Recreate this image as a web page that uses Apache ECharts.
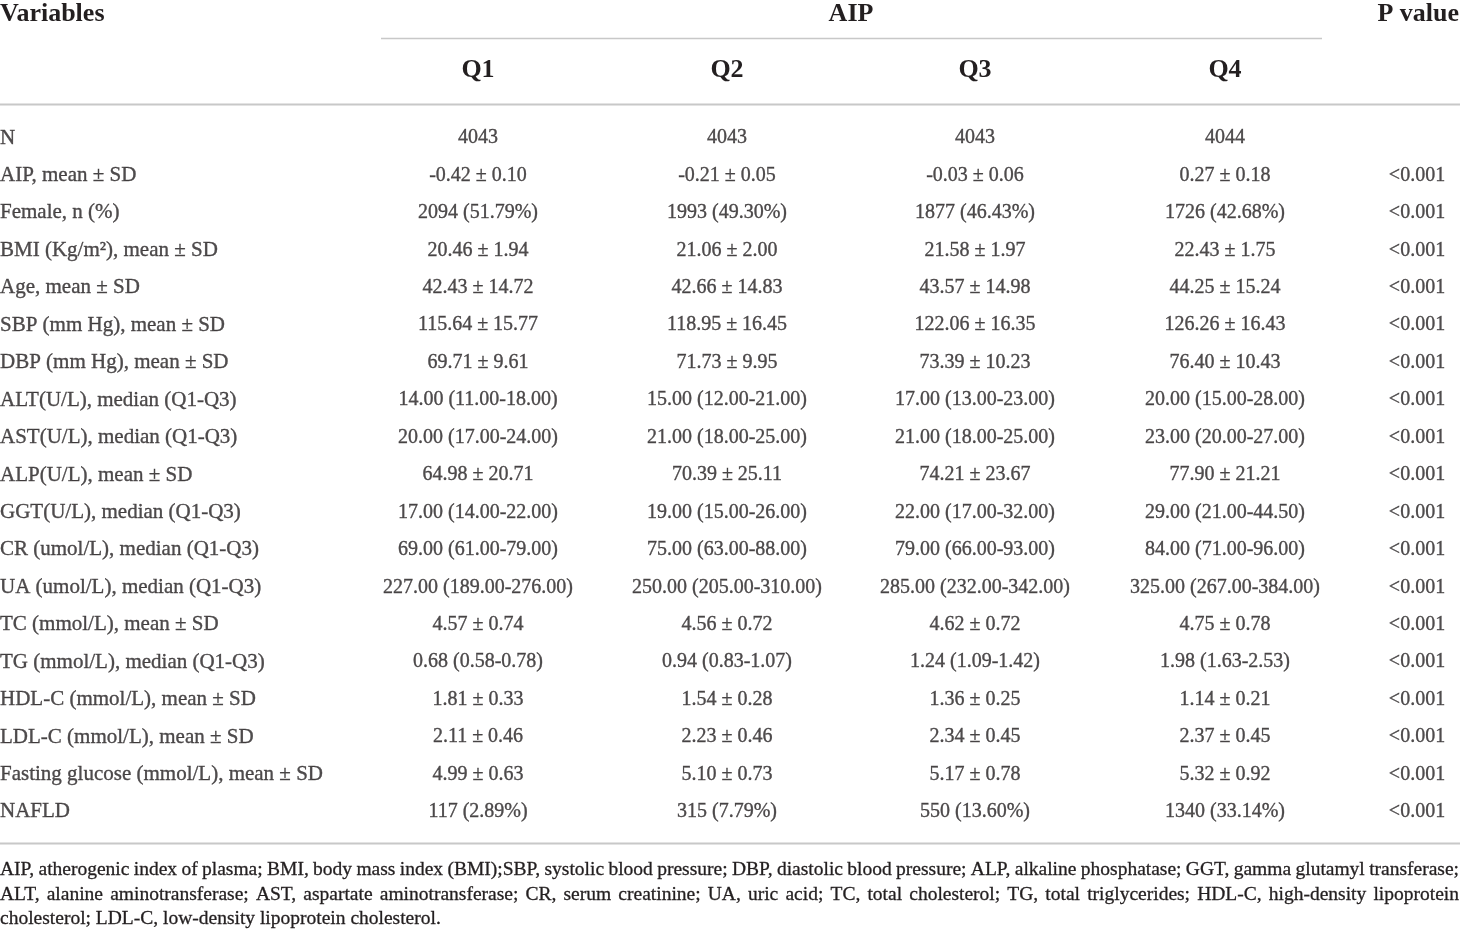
<!DOCTYPE html>
<html>
<head>
<meta charset="utf-8">
<script src="https://cdn.jsdelivr.net/npm/echarts@6/dist/echarts.min.js"></script>
<style>
  html, body { margin: 0; padding: 0; background: #fff; }
  #main { width: 1460px; height: 929px; }
</style>
</head>
<body>
<div id="main"></div>
<script>
"use strict";
// table content
var variables = [
    "N", "AIP, mean ± SD", "Female, n (%)", "BMI (Kg/m²), mean ± SD", "Age, mean ± SD",
    "SBP (mm Hg), mean ± SD", "DBP (mm Hg), mean ± SD", "ALT(U/L), median (Q1-Q3)",
    "AST(U/L), median (Q1-Q3)", "ALP(U/L), mean ± SD", "GGT(U/L), median (Q1-Q3)",
    "CR (umol/L), median (Q1-Q3)", "UA (umol/L), median (Q1-Q3)", "TC (mmol/L), mean ± SD",
    "TG (mmol/L), median (Q1-Q3)", "HDL-C (mmol/L), mean ± SD", "LDL-C (mmol/L), mean ± SD",
    "Fasting glucose (mmol/L), mean ± SD", "NAFLD"
];
var q1 = ["4043", "-0.42 ± 0.10", "2094 (51.79%)", "20.46 ± 1.94", "42.43 ± 14.72", "115.64 ± 15.77",
    "69.71 ± 9.61", "14.00 (11.00-18.00)", "20.00 (17.00-24.00)", "64.98 ± 20.71", "17.00 (14.00-22.00)",
    "69.00 (61.00-79.00)", "227.00 (189.00-276.00)", "4.57 ± 0.74", "0.68 (0.58-0.78)", "1.81 ± 0.33",
    "2.11 ± 0.46", "4.99 ± 0.63", "117 (2.89%)"];
var q2 = ["4043", "-0.21 ± 0.05", "1993 (49.30%)", "21.06 ± 2.00", "42.66 ± 14.83", "118.95 ± 16.45",
    "71.73 ± 9.95", "15.00 (12.00-21.00)", "21.00 (18.00-25.00)", "70.39 ± 25.11", "19.00 (15.00-26.00)",
    "75.00 (63.00-88.00)", "250.00 (205.00-310.00)", "4.56 ± 0.72", "0.94 (0.83-1.07)", "1.54 ± 0.28",
    "2.23 ± 0.46", "5.10 ± 0.73", "315 (7.79%)"];
var q3 = ["4043", "-0.03 ± 0.06", "1877 (46.43%)", "21.58 ± 1.97", "43.57 ± 14.98", "122.06 ± 16.35",
    "73.39 ± 10.23", "17.00 (13.00-23.00)", "21.00 (18.00-25.00)", "74.21 ± 23.67", "22.00 (17.00-32.00)",
    "79.00 (66.00-93.00)", "285.00 (232.00-342.00)", "4.62 ± 0.72", "1.24 (1.09-1.42)", "1.36 ± 0.25",
    "2.34 ± 0.45", "5.17 ± 0.78", "550 (13.60%)"];
var q4 = ["4044", "0.27 ± 0.18", "1726 (42.68%)", "22.43 ± 1.75", "44.25 ± 15.24", "126.26 ± 16.43",
    "76.40 ± 10.43", "20.00 (15.00-28.00)", "23.00 (20.00-27.00)", "77.90 ± 21.21", "29.00 (21.00-44.50)",
    "84.00 (71.00-96.00)", "325.00 (267.00-384.00)", "4.75 ± 0.78", "1.98 (1.63-2.53)", "1.14 ± 0.21",
    "2.37 ± 0.45", "5.32 ± 0.92", "1340 (33.14%)"];
var pValues = ["", "<0.001", "<0.001", "<0.001", "<0.001", "<0.001", "<0.001", "<0.001", "<0.001",
    "<0.001", "<0.001", "<0.001", "<0.001", "<0.001", "<0.001", "<0.001", "<0.001", "<0.001", "<0.001"];
var quartiles = ["Q1", "Q2", "Q3", "Q4"];
var footLines = [
    "AIP, atherogenic index of plasma; BMI, body mass index (BMI);SBP, systolic blood pressure; DBP, diastolic blood pressure; ALP, alkaline phosphatase; GGT, gamma glutamyl transferase;",
    "ALT, alanine aminotransferase; AST, aspartate aminotransferase; CR, serum creatinine; UA, uric acid; TC, total cholesterol; TG, total triglycerides; HDL-C, high-density lipoprotein",
    "cholesterol; LDL-C, low-density lipoprotein cholesterol."
];

// layout (column centres on a 0..1460 x scale)
var colX = [0, 478, 727, 975, 1225, 1417];
var ink = "#231f20";
var rule = "#c8c8c8";
var serif = '"Liberation Serif", "Times New Roman", serif';
var W = 1460;

var myChart = echarts.init(document.getElementById("main"), null, { renderer: "canvas" });

function colSeries(vals, x, isLeft) {
    return {
        type: "scatter",
        symbolSize: 0,
        silent: true,
        data: vals.map(function (v, i) { return [x, i, v]; }),
        label: {
            show: true,
            position: isLeft ? "right" : "inside",
            distance: 0,
            formatter: function (p) { return p.data[2]; },
            color: ink,
            textBorderColor: ink,
            textBorderWidth: 0.35,
            fontFamily: serif,
            fontSize: isLeft ? 21 : 20
        }
    };
}

// justified footnote, one text per word
var measure = document.createElement("canvas").getContext("2d");
var footFont = "19.5px " + serif;
measure.font = footFont;
var footY = [870, 895, 919];
var graphics = [];
function wordText(w, x, y) {
    return { type: "text", style: { text: w, x: x, y: y, font: footFont, fill: ink, stroke: ink, lineWidth: 0.3, textVerticalAlign: "middle" } };
}
footLines.forEach(function (line, li) {
    var words = line.split(" ");
    if (li === footLines.length - 1) {
        graphics.push(wordText(line, 0, footY[li]));
        return;
    }
    var total = 0;
    words.forEach(function (w) { total += measure.measureText(w).width; });
    var gap = (W - 1 - total) / (words.length - 1);
    var x = 0;
    words.forEach(function (w) {
        graphics.push(wordText(w, x, footY[li]));
        x += measure.measureText(w).width + gap;
    });
});

var headFont = "bold 26px " + serif;
function headText(t, x, y, align) {
    return { type: "text", style: { text: t, x: x, y: y, font: headFont, fill: ink, textAlign: align, textVerticalAlign: "middle" } };
}
graphics.push(headText("Variables", 0, 14, "left"));
graphics.push(headText("AIP", 851, 14, "center"));
graphics.push(headText("P value", 1459, 14, "right"));
quartiles.forEach(function (q, i) {
    graphics.push(headText(q, colX[i + 1], 70, "center"));
});
graphics.push({ type: "line", shape: { x1: 381, y1: 38.5, x2: 1322, y2: 38.5 }, style: { stroke: rule, lineWidth: 1.5 } });
graphics.push({ type: "line", shape: { x1: 0, y1: 104.5, x2: W, y2: 104.5 }, style: { stroke: rule, lineWidth: 2 } });
graphics.push({ type: "line", shape: { x1: 0, y1: 843.5, x2: W, y2: 843.5 }, style: { stroke: rule, lineWidth: 2 } });

var option = {
    backgroundColor: "#fff",
    animation: false,
    grid: { left: 0, right: 0, top: 119.3, bottom: 98.3 },
    xAxis: { type: "value", min: 0, max: W, show: false },
    yAxis: { type: "category", data: variables, inverse: true, show: false },
    series: [
        colSeries(variables, colX[0], true),
        colSeries(q1, colX[1]),
        colSeries(q2, colX[2]),
        colSeries(q3, colX[3]),
        colSeries(q4, colX[4]),
        colSeries(pValues, colX[5])
    ],
    graphic: graphics
};
myChart.setOption(option);
</script>
</body>
</html>
